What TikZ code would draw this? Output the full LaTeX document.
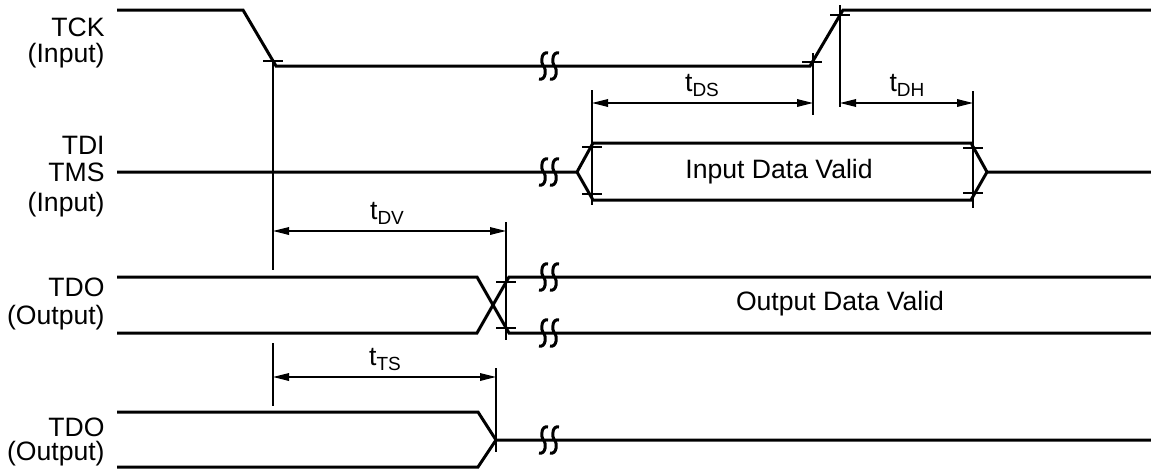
\documentclass[tikz,border=0pt]{standalone}
\usepackage{fontspec}
\setmainfont{Liberation Sans}
\usetikzlibrary{arrows.meta,calc}
\newcommand\tsub[1]{t\raisebox{-2.5pt}{\fontsize{9.5}{10}\selectfont #1}}
\tikzset{
  sig/.style={line width=1.5pt, line join=miter, line cap=butt},
  guide/.style={line width=0.7pt},
  dimarrow/.style={line width=0.7pt, {Triangle[length=8pt,width=3.8pt]}-{Triangle[length=8pt,width=3.8pt]}},
  lbl/.style={font=\fontsize{13.3}{15}\selectfont, inner sep=0pt, anchor=east},
  txt/.style={font=\fontsize{13.3}{15}\selectfont, inner sep=0pt},
  tlbl/.style={font=\fontsize{13.3}{15}\selectfont, inner sep=0pt, anchor=base},
  brk/.pic={\draw[sig] (4.5,-13) .. controls (-2.5,-15) and (-3,-3) .. (0,0) .. controls (3,3) and (2.5,15) .. (-4.5,13);}
}
\begin{document}
\begin{tikzpicture}[x=0.5pt,y=-0.5pt]
\useasboundingbox (0,0) rectangle (1151,471);
% ---------- labels ----------
\node[lbl] (lck) at (105,27) {TCK};
\node[lbl] (lcki) at (105,55.5) {(Input)};
\node[lbl] (ldi) at (105,145.5) {TDI};
\node[lbl] (lms) at (105,172) {TMS};
\node[lbl] (ldii) at (105,205) {(Input)};
\node[lbl] (ldo) at (105,287) {TDO};
\node[lbl] (ldoo) at (105,317.5) {(Output)};
\node[lbl] (ldo2) at (105,427.5) {TDO};
\node[lbl] (ldoo2) at (105,453.5) {(Output)};
% ---------- TCK ----------
\coordinate (ck0) at (117,10);
\coordinate (ckf1) at (243,10);
\coordinate (ckf2) at (276,66);
\coordinate (ckr1) at (810,66);
\coordinate (ckr2) at (843,10);
\coordinate (ckend) at (1151,10);
\draw[sig] (ck0) -- (ckf1) -- (ckf2) -- (ckr1) -- (ckr2) -- (ckend);
\pic at (543.5,66) {brk};
\pic at (554.5,66) {brk};
\coordinate (tA) at ($(ckf1)!0.91!(ckf2)$);
\coordinate (tB) at ($(ckr1)!0.07!(ckr2)$);
\coordinate (tC) at ($(ckr1)!0.91!(ckr2)$);
\foreach \p in {tA,tB,tC} \draw[guide] ($(\p)+(-10,0)$) -- ($(\p)+(10,0)$);
\coordinate (vAb) at (273,270);
\draw[guide] (tA) -- (tA |- vAb);
\coordinate (vBt) at (813,53); \coordinate (vBb) at (813,115);
\draw[guide] (vBt) -- (vBb);
\coordinate (vCt) at (840,5); \coordinate (vCb) at (840,107);
\draw[guide] (vCt) -- (vCb);
% ---------- TDI/TMS ----------
\coordinate (di0) at (117,172);
\coordinate (diL) at (577,172);
\coordinate (diU1) at (593,143);
\coordinate (diD1) at (593,200);
\coordinate (diU2) at (971,143);
\coordinate (diD2) at (971,200);
\coordinate (diR) at (987,172);
\coordinate (diend) at (1151,172);
\draw[sig] (di0) -- (diL) -- (diU1) -- (diU2) -- (diR) -- (diend);
\draw[sig] (diL) -- (diD1) -- (diD2) -- (diR);
\pic at (543.5,172) {brk};
\pic at (554.5,172) {brk};
\coordinate (tD1) at (592,147); \coordinate (tD2) at (592,194);
\coordinate (tE1) at (973,148); \coordinate (tE2) at (973,193);
\foreach \p in {tD1,tD2,tE1,tE2} \draw[guide] ($(\p)+(-10,0)$) -- ($(\p)+(10,0)$);
\coordinate (vDt) at (592,90); \coordinate (vDb) at (592,205);
\draw[guide] (vDt) -- (vDb);
\coordinate (vEt) at (973,91); \coordinate (vEb) at (973,208);
\draw[guide] (vEt) -- (vEb);
\node[txt] (idv) at (779,172) {Input Data Valid};
% tDS, tDH
\coordinate (aDS1) at (592,103); \coordinate (aDS2) at (813,103);
\draw[dimarrow] (aDS1) -- (aDS2);
\node[tlbl] (lDS) at (702,91) {\tsub{DS}};
\coordinate (aDH1) at (840,103); \coordinate (aDH2) at (973,103);
\draw[dimarrow] (aDH1) -- (aDH2);
\node[tlbl] (lDH) at (907,91) {\tsub{DH}};
% ---------- TDO 1 ----------
\coordinate (o1u0) at (117,277); \coordinate (o1u1) at (477,277);
\coordinate (o1d0) at (117,333); \coordinate (o1d1) at (477,333);
\coordinate (o1u2) at (509,277); \coordinate (o1d2) at (509,333);
\coordinate (o1ue) at (1151,277); \coordinate (o1de) at (1151,333);
\draw[sig] (o1u0) -- (o1u1) -- (o1d2) -- (o1de);
\draw[sig] (o1d0) -- (o1d1) -- (o1u2) -- (o1ue);
\pic at (543.5,277) {brk}; \pic at (554.5,277) {brk};
\pic at (543.5,333) {brk}; \pic at (554.5,333) {brk};
\coordinate (tF1) at (506,282); \coordinate (tF2) at (506,328);
\foreach \p in {tF1,tF2} \draw[guide] ($(\p)+(-10,0)$) -- ($(\p)+(10,0)$);
\coordinate (vFt) at (506,222); \coordinate (vFb) at (506,340);
\draw[guide] (vFt) -- (vFb);
\node[txt] (odv) at (840,304) {Output Data Valid};
% tDV
\coordinate (aDV1) at (273,231); \coordinate (aDV2) at (506,231);
\draw[dimarrow] (aDV1) -- (aDV2);
\node[tlbl] (lDV) at (387,219) {\tsub{DV}};
% ---------- TDO 2 ----------
\coordinate (o2u0) at (117,412); \coordinate (o2u1) at (478,412);
\coordinate (o2d0) at (117,467); \coordinate (o2d1) at (478,467);
\coordinate (o2m) at (496,440); \coordinate (o2e) at (1151,440);
\draw[sig] (o2u0) -- (o2u1) -- (o2m) -- (o2e);
\draw[sig] (o2d0) -- (o2d1) -- (o2m);
\pic at (543.5,440) {brk}; \pic at (554.5,440) {brk};
\coordinate (vGt) at (496,368); \coordinate (vGb) at (496,452);
\draw[guide] (vGt) -- (vGb);
\coordinate (vHt) at (273,343); \coordinate (vHb) at (273,406);
\draw[guide] (vHt) -- (vHb);
% tTS
\coordinate (aTS1) at (273,377); \coordinate (aTS2) at (496,377);
\draw[dimarrow] (aTS1) -- (aTS2);
\node[tlbl] (lTS) at (385,365) {\tsub{TS}};
\end{tikzpicture}
\end{document}
